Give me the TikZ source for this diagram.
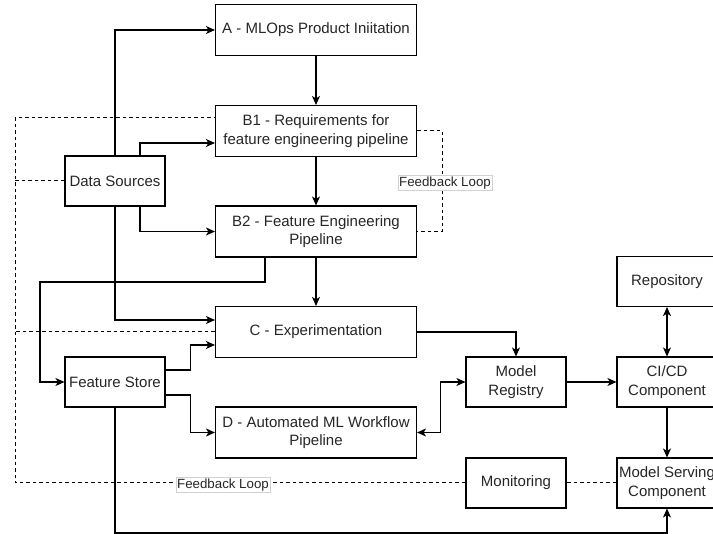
\documentclass[tikz,border=0pt]{standalone}
\usepackage{fontspec}
\setmainfont{Liberation Sans}
\usetikzlibrary{arrows.meta,calc}
\begin{document}
\begin{tikzpicture}[x=1pt,y=-1pt,
  box/.style={draw, line width=1.1pt, minimum width=100pt, minimum height=50pt,
    inner sep=0pt, align=center, font=\fontsize{15}{18.5}\selectfont, fill=white,
    text=black!85},
  wide/.style={box, minimum width=201pt, minimum height=51pt},
  conn/.style={line width=1.1pt},
  arr/.style={conn, -{Stealth[length=9pt,width=8pt,inset=2.5pt]}},
  darr/.style={conn, {Stealth[length=9pt,width=8pt,inset=2.5pt]}-{Stealth[length=9pt,width=8pt,inset=2.5pt]}},
  fb/.style={line width=1pt, dash pattern=on 3.5pt off 3pt},
  fblabel/.style={draw=black!18, line width=0.6pt, fill=white, inner sep=1pt,
    font=\fontsize{13.3}{15}\selectfont, text=black!85}
]
\useasboundingbox (0,0) rectangle (713,534);
\clip (0,0) rectangle (713,534);
\fill[white] (0,0) rectangle (713,534);

% reference points for the loop and the bottom route
\coordinate (fbl) at (15,483);
\coordinate (bot) at (0,533);

% process boxes
\node[wide] (A)  at (316,30)    {A - MLOps Product Iniitation};
\node[wide] (B1) at (316,131)   {B1 - Requirements for\\feature engineering pipeline};
\node[wide] (B2) at (316,231.5) {B2 - Feature Engineering\\Pipeline};
\node[wide] (C)  at (316,332)   {C - Experimentation};
\node[wide] (D)  at (316,432.5) {D - Automated ML Workflow\\Pipeline};
\node[box]  (DS) at (115,181)   {Data Sources};
\node[box]  (FS) at (115,382)   {Feature Store};
\node[box]  (MR) at (516,382)   {Model\\Registry};
\node[box]  (Mon) at (516,483)  {Monitoring};
\node[box]  (Repo) at (667,281.5) {Repository};
\node[box]  (CI) at (667,382)   {CI/CD\\Component};
\node[box]  (MS) at (667,483)   {Model Serving\\Component};

% dashed feedback loops
\draw[fb] (MS.west) -- (Mon.east);
\draw[fb] (Mon.west) -- (fbl) |- ($(B1.west)+(0,-13)$);
\draw[fb] (DS.west) -- (DS.west -| fbl);
\draw[fb] (C.west) -- (C.west -| fbl);
\draw[fb] (B1.east) -- ++(25,0) |- (B2.east);
\node[fblabel] (fbA) at (223,485) {Feedback Loop};
\node[fblabel] (fbB) at (445,183) {Feedback Loop};

% main flow
\draw[arr] (A.south) -- (B1.north);
\draw[arr] (B1.south) -- (B2.north);
\draw[arr] (B2.south) -- (C.north);

% data sources
\draw[arr] (DS.north) |- (A.west);
\draw[arr] ([xshift=25pt]DS.north) |- ($(B1.west)+(0,12)$);
\draw[arr] ([xshift=25pt]DS.south) |- (B2.west);
\draw[arr] (DS.south) |- ($(C.west)+(0,-12)$);

% feature store
\coordinate (fsl) at (40,282);
\draw[arr] ($(B2.south)+(-51,0)$) |- (fsl) |- (FS.west);
\draw[arr] ($(FS.east)+(0,-12)$) -- ++(25,0) |- ($(C.west)+(0,13)$);
\draw[arr] ($(FS.east)+(0,13)$) -- ++(25,0) |- (D.west);
\draw[arr] (FS.south) -- (FS.south |- bot) -| (MS.south);

% model registry and deployment
\draw[arr] (C.east) -| (MR.north);
\draw[darr] (MR.west) -- ++(-25,0) |- (D.east);
\draw[arr] (MR.east) -- (CI.west);
\draw[darr] (Repo.south) -- (CI.north);
\draw[arr] (CI.south) -- (MS.north);
\end{tikzpicture}
\end{document}
